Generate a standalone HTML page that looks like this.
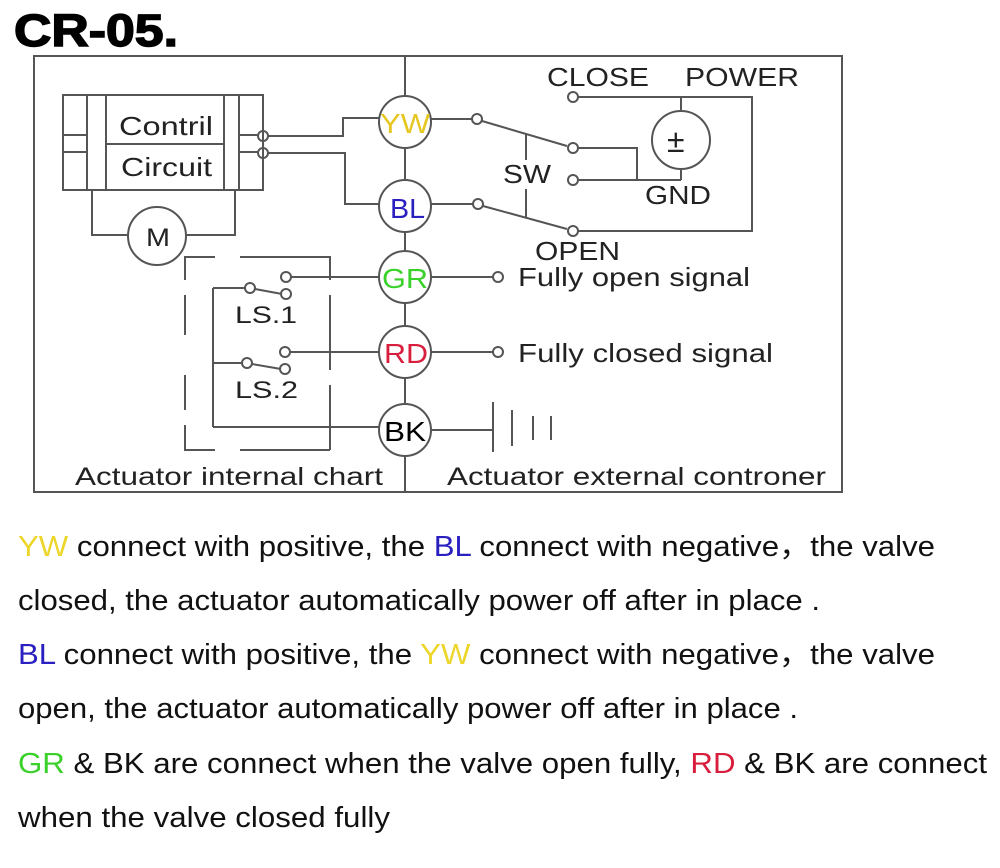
<!DOCTYPE html>
<html><head><meta charset="utf-8"><style>
body{margin:0;background:#fff;}
svg text{font-family:"Liberation Sans",Arial,sans-serif;}
</style></head><body>
<svg width="1000" height="863" viewBox="0 0 1000 863" xmlns="http://www.w3.org/2000/svg">
<text x="14" y="46" font-size="45" font-weight="bold" textLength="164" lengthAdjust="spacingAndGlyphs" stroke="#000" stroke-width="1.5">CR-05.</text>
<g fill="none" stroke="#555" stroke-width="2">
<rect x="34" y="56" width="808" height="436"/>
<line x1="405" y1="56" x2="405" y2="492"/>
<rect x="63" y="95" width="200" height="95"/>
<line x1="87" y1="95" x2="87" y2="190"/><line x1="106" y1="95" x2="106" y2="190"/>
<line x1="224" y1="95" x2="224" y2="190"/><line x1="239" y1="95" x2="239" y2="190"/>
<line x1="106" y1="144" x2="224" y2="144"/>
<line x1="63" y1="135" x2="87" y2="135"/><line x1="63" y1="152" x2="87" y2="152"/>
<line x1="239" y1="135" x2="258" y2="135"/><line x1="239" y1="152" x2="258" y2="152"/>
<circle cx="263" cy="136" r="5"/><circle cx="263" cy="153" r="5"/>
<polyline points="268,136 343,136 343,118 379,118"/>
<polyline points="268,153 345,153 345,204 379,204"/>
<circle cx="157" cy="236" r="29"/>
<polyline points="92,190 92,235 128,235"/><polyline points="186,235 235,235 235,190"/>
<polyline points="185,280 185,257 215,257"/><polyline points="240,257 330,257 330,280"/>
<line x1="330" y1="295" x2="330" y2="370"/><line x1="330" y1="385" x2="330" y2="450"/>
<polyline points="185,295 185,335"/><polyline points="185,375 185,410"/>
<polyline points="185,425 185,450 215,450"/><line x1="240" y1="450" x2="330" y2="450"/>
<line x1="213" y1="288" x2="213" y2="427"/>
<line x1="213" y1="288" x2="245" y2="288"/><circle cx="250" cy="288" r="5"/>
<line x1="255" y1="289" x2="282" y2="294"/><circle cx="286" cy="294" r="5"/>
<circle cx="286" cy="277" r="5"/><line x1="291" y1="277" x2="379" y2="277"/>
<line x1="213" y1="363" x2="242" y2="363"/><circle cx="247" cy="363" r="5"/>
<line x1="252" y1="364" x2="281" y2="369"/><circle cx="285" cy="369" r="5"/>
<circle cx="285" cy="352" r="5"/><line x1="290" y1="352" x2="379" y2="352"/>
<line x1="213" y1="427" x2="379" y2="427"/>
<g fill="#fff"><circle cx="405" cy="122" r="26"/><circle cx="405" cy="206" r="26"/><circle cx="405" cy="277" r="26"/><circle cx="405" cy="352" r="26"/><circle cx="405" cy="430" r="26"/></g>
<line x1="431" y1="119" x2="472" y2="119"/><circle cx="477" cy="119" r="5"/>
<line x1="482" y1="121" x2="567" y2="146"/>
<line x1="431" y1="204" x2="473" y2="204"/><circle cx="478" cy="204" r="5"/>
<line x1="483" y1="206" x2="567" y2="229"/>
<line x1="526" y1="134" x2="526" y2="160"/><line x1="526" y1="189" x2="526" y2="217"/>
<circle cx="573" cy="97" r="5"/><circle cx="573" cy="148" r="5"/><circle cx="573" cy="180" r="5"/><circle cx="573" cy="231" r="5"/>
<polyline points="578,97 752,97 752,231 578,231"/>
<polyline points="578,148 637,148 637,180"/><line x1="578" y1="180" x2="681" y2="180"/>
<circle cx="681" cy="140" r="29"/>
<line x1="681" y1="97" x2="681" y2="111"/><line x1="681" y1="169" x2="681" y2="180"/>
<line x1="431" y1="277" x2="493" y2="277"/><circle cx="498" cy="277" r="5"/>
<line x1="431" y1="352" x2="493" y2="352"/><circle cx="498" cy="352" r="5"/>
<line x1="431" y1="430" x2="493" y2="430"/>
<line x1="493" y1="402" x2="493" y2="452"/><line x1="512" y1="410" x2="512" y2="446"/>
<line x1="533" y1="416" x2="533" y2="440"/><line x1="551" y1="416" x2="551" y2="440"/>
</g>
<g font-size="26" fill="#222">
<text x="119" y="135" textLength="94" lengthAdjust="spacingAndGlyphs">Contril</text>
<text x="121" y="176" textLength="91" lengthAdjust="spacingAndGlyphs">Circuit</text>
<text x="146" y="246" font-size="25" textLength="24" lengthAdjust="spacingAndGlyphs">M</text>
<text x="235" y="323" font-size="24" textLength="62" lengthAdjust="spacingAndGlyphs">LS.1</text>
<text x="235" y="398" font-size="24" textLength="63" lengthAdjust="spacingAndGlyphs">LS.2</text>
<text x="547" y="86" textLength="102" lengthAdjust="spacingAndGlyphs">CLOSE</text>
<text x="685" y="86" textLength="114" lengthAdjust="spacingAndGlyphs">POWER</text>
<text x="503" y="183" textLength="48" lengthAdjust="spacingAndGlyphs">SW</text>
<text x="645" y="204" textLength="66" lengthAdjust="spacingAndGlyphs">GND</text>
<text x="535" y="260" textLength="85" lengthAdjust="spacingAndGlyphs">OPEN</text>
<text x="667" y="152" font-size="32">±</text>
<text x="518" y="286" textLength="232" lengthAdjust="spacingAndGlyphs">Fully open signal</text>
<text x="518" y="362" textLength="255" lengthAdjust="spacingAndGlyphs">Fully closed signal</text>
<text x="75" y="485" font-size="25" textLength="308" lengthAdjust="spacingAndGlyphs">Actuator internal chart</text>
<text x="447" y="485" font-size="25" textLength="379" lengthAdjust="spacingAndGlyphs">Actuator external controner</text>
</g>
<g font-size="28">
<text x="380" y="133" textLength="50" lengthAdjust="spacingAndGlyphs" fill="#e6c620">YW</text>
<text x="390" y="218" textLength="35" lengthAdjust="spacingAndGlyphs" fill="#2a1fbf">BL</text>
<text x="382" y="288" textLength="46" lengthAdjust="spacingAndGlyphs" fill="#3bd12b">GR</text>
<text x="384" y="363" textLength="44" lengthAdjust="spacingAndGlyphs" fill="#d81e3c">RD</text>
<text x="384" y="441" textLength="42" lengthAdjust="spacingAndGlyphs" fill="#000">BK</text>
</g>
<g font-size="29" fill="#111">
<text x="18" y="556" textLength="917" lengthAdjust="spacingAndGlyphs"><tspan fill="#ecd62a">YW</tspan> connect with positive, the <tspan fill="#2a1fbf">BL</tspan> connect with negative，the valve</text>
<text x="18" y="610" textLength="802" lengthAdjust="spacingAndGlyphs">closed, the actuator automatically power off after in place .</text>
<text x="18" y="664" textLength="917" lengthAdjust="spacingAndGlyphs"><tspan fill="#2a1fbf">BL</tspan> connect with positive, the <tspan fill="#ecd62a">YW</tspan> connect with negative，the valve</text>
<text x="18" y="718" textLength="780" lengthAdjust="spacingAndGlyphs">open, the actuator automatically power off after in place .</text>
<text x="18" y="773" textLength="969" lengthAdjust="spacingAndGlyphs"><tspan fill="#3bd12b">GR</tspan> &amp; BK are connect when the valve open fully, <tspan fill="#d81e3c">RD</tspan> &amp; BK are connect</text>
<text x="18" y="827" textLength="372" lengthAdjust="spacingAndGlyphs">when the valve closed fully</text>
</g>
</svg>
</body></html>
